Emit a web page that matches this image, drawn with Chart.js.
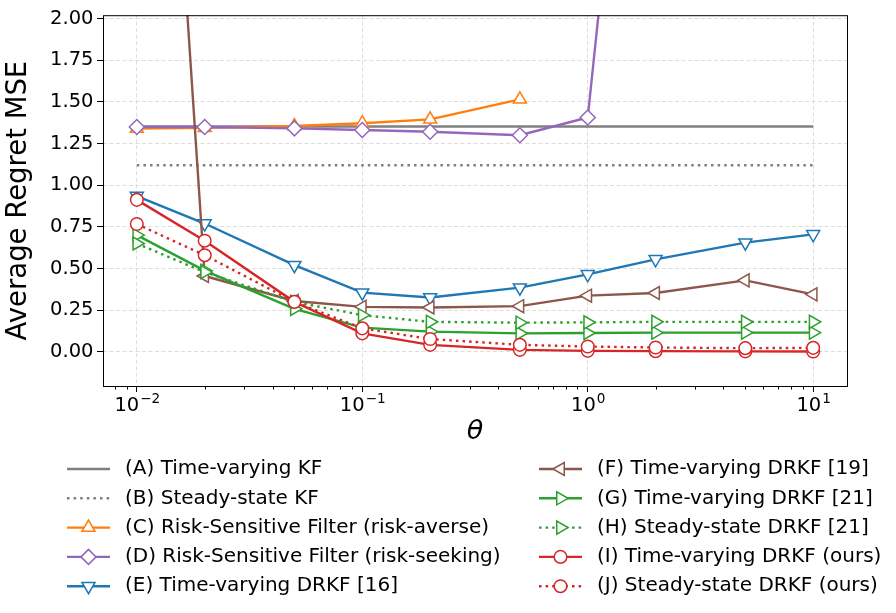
<!DOCTYPE html>
<html>
<head>
<meta charset="utf-8">
<script src="https://cdn.jsdelivr.net/npm/chart.js@4/dist/chart.umd.min.js"></script>
<style>
  html, body { margin: 0; padding: 0; background: #fff; }
  canvas { display: block; }
</style>
</head>
<body>
<canvas id="regret-chart" width="896" height="613"></canvas>
<script>
// theta values (x axis, log scale)
const thetas = [0.01, 0.02, 0.05, 0.1, 0.2, 0.5, 1, 2, 5, 10];

// average regret MSE per method
const kfTimeVarying = [1.352, 1.352, 1.352, 1.352, 1.352, 1.352, 1.352, 1.352, 1.352, 1.352];
const kfSteadyState = [1.12, 1.12, 1.12, 1.12, 1.12, 1.12, 1.12, 1.12, 1.12, 1.12];
const riskAverse = [1.34, 1.345, 1.355, 1.372, 1.395, 1.515, null, null, null, null];
const riskSeeking = [1.349, 1.349, 1.341, 1.331, 1.321, 1.30, 1.406, 5.3, 8.0, 9.5];
const drkf16 = [0.935, 0.77, 0.52, 0.355, 0.326, 0.385, 0.465, 0.555, 0.655, 0.705];
const drkf19 = [6.6, 0.455, 0.305, 0.27, 0.266, 0.274, 0.337, 0.353, 0.429, 0.345];
const drkf21 = [0.70, 0.487, 0.258, 0.145, 0.121, 0.111, 0.113, 0.115, 0.115, 0.115];
const drkf21Steady = [0.65, 0.478, 0.30, 0.22, 0.18, 0.175, 0.177, 0.18, 0.18, 0.18];
const drkfOurs = [0.912, 0.667, 0.30, 0.111, 0.042, 0.012, 0.006, 0.004, 0.003, 0.002];
const drkfOursSteady = [0.767, 0.58, 0.30, 0.141, 0.077, 0.042, 0.032, 0.026, 0.022, 0.024];

// ticks
const xTicks = [0.01, 0.1, 1, 10];
const xTickExponents = ["\u22122", "\u22121", "0", "1"];
const yTicks = [0, 0.25, 0.5, 0.75, 1.0, 1.25, 1.5, 1.75, 2.0];

const FONT = "'DejaVu Sans', sans-serif";
const DOTTED = [2.5, 4.1];

const toPoints = (values) => thetas.map((t, i) => ({ x: t, y: values[i] }));

const makeSeries = (label, values, color, opts = {}) => ({
  label: label,
  data: toPoints(values),
  borderColor: color,
  borderWidth: 2.4,
  borderDash: opts.dash || [],
  borderCapStyle: "butt",
  pointStyle: opts.marker || false,
  pointRadius: opts.marker ? (opts.radius || 7) : 0,
  pointRotation: opts.rotation || 0,
  pointBackgroundColor: "#ffffff",
  pointBorderColor: color,
  pointBorderWidth: 1.5,
  tension: 0,
  spanGaps: false,
  clip: 0,
});

const datasets = [
  makeSeries("(A) Time-varying KF", kfTimeVarying, "#7f7f7f"),
  makeSeries("(B) Steady-state KF", kfSteadyState, "#7f7f7f", { dash: DOTTED }),
  makeSeries("(C) Risk-Sensitive Filter (risk-averse)", riskAverse, "#ff7f0e", { marker: "triangle", radius: 7.5 }),
  makeSeries("(D) Risk-Sensitive Filter (risk-seeking)", riskSeeking, "#9467bd", { marker: "rectRot", radius: 7.5 }),
  makeSeries("(E) Time-varying DRKF [16]", drkf16, "#1f77b4", { marker: "triangle", radius: 7.5, rotation: 180 }),
  makeSeries("(F) Time-varying DRKF [19]", drkf19, "#8c564b", { marker: "triangle", radius: 7.5, rotation: 270 }),
  makeSeries("(G) Time-varying DRKF [21]", drkf21, "#2ca02c", { marker: "triangle", radius: 7.5, rotation: 90 }),
  makeSeries("(H) Steady-state DRKF [21]", drkf21Steady, "#2ca02c", { marker: "triangle", radius: 7.5, rotation: 90, dash: DOTTED }),
  makeSeries("(I) Time-varying DRKF (ours)", drkfOurs, "#d62728", { marker: "circle", radius: 6.3 }),
  makeSeries("(J) Steady-state DRKF (ours)", drkfOursSteady, "#d62728", { marker: "circle", radius: 6.3, dash: DOTTED }),
];
// later series on top, like matplotlib
datasets.forEach((ds, i) => { ds.order = datasets.length - i; });

// frame, minor ticks, 10^n labels and the two-column legend
const framePlugin = {
  id: "frame",
  afterDatasetsDraw(chart) {
    const { ctx, chartArea: a, scales } = chart;
    ctx.save();
    ctx.strokeStyle = "#000";
    ctx.lineWidth = 1;
    ctx.strokeRect(a.left + 0.5, a.top + 0.5, a.right - a.left, a.bottom - a.top);
    // minor ticks of the log axis
    const x = scales.x;
    ctx.beginPath();
    for (let n = -3; n <= 1; n++) {
      for (let k = 2; k <= 9; k++) {
        const v = k * Math.pow(10, n);
        if (v < x.min || v > x.max) continue;
        const px = Math.round(x.getPixelForValue(v)) + 0.5;
        ctx.moveTo(px, a.bottom);
        ctx.lineTo(px, a.bottom + 3.5);
      }
    }
    ctx.stroke();

    // x tick labels as 10 with a raised exponent
    ctx.fillStyle = "#000";
    ctx.textBaseline = "alphabetic";
    ctx.textAlign = "left";
    const baseY = a.bottom + 25;
    xTicks.forEach((v, i) => {
      const px = x.getPixelForValue(v);
      ctx.font = "19.5px " + FONT;
      const wb = ctx.measureText("10").width;
      ctx.font = "13.6px " + FONT;
      const we = ctx.measureText(xTickExponents[i]).width;
      const start = px - (wb + we) / 2;
      ctx.font = "19.5px " + FONT;
      ctx.fillText("10", start, baseY);
      ctx.font = "13.6px " + FONT;
      ctx.fillText(xTickExponents[i], start + wb + 1, baseY - 8);
    });
    ctx.restore();
  },
  afterDraw(chart) {
    const { ctx } = chart;
    const cols = [
      { x0: 67, text: 125 },
      { x0: 539, text: 597 },
    ];
    const rowY = 469;
    const rowGap = 29.3;
    const handleLen = 43;
    ctx.save();
    chart.data.datasets.forEach((ds, i) => {
      const col = cols[i < 5 ? 0 : 1];
      const y = rowY + (i % 5) * rowGap;
      ctx.strokeStyle = ds.borderColor;
      ctx.lineWidth = ds.borderWidth;
      ctx.lineCap = "butt";
      ctx.setLineDash(ds.borderDash);
      ctx.beginPath();
      ctx.moveTo(col.x0, y);
      ctx.lineTo(col.x0 + handleLen, y);
      ctx.stroke();
      ctx.setLineDash([]);
      if (ds.pointStyle) {
        ctx.fillStyle = "#ffffff";
        ctx.strokeStyle = ds.borderColor;
        ctx.lineWidth = ds.pointBorderWidth;
        Chart.helpers.drawPoint(ctx, {
          pointStyle: ds.pointStyle,
          rotation: ds.pointRotation,
          radius: ds.pointRadius,
          borderWidth: ds.pointBorderWidth,
        }, col.x0 + handleLen / 2, y);
      }
      ctx.fillStyle = "#000";
      ctx.font = "20px " + FONT;
      ctx.textBaseline = "middle";
      ctx.textAlign = "left";
      ctx.fillText(ds.label, col.text, y);
    });
    ctx.restore();
  },
};

new Chart(document.getElementById("regret-chart"), {
  type: "line",
  data: { datasets: datasets },
  options: {
    responsive: false,
    animation: false,
    events: [],
    layout: { padding: { left: 0, right: 49, top: 11, bottom: 165 } },
    plugins: { legend: { display: false }, tooltip: { enabled: false } },
    scales: {
      x: {
        type: "logarithmic",
        min: Math.pow(10, -2.15),
        max: Math.pow(10, 1.15),
        afterBuildTicks: (scale) => { scale.ticks = xTicks.map((v) => ({ value: v })); },
        afterFit: (scale) => { scale.height = 62; },
        ticks: { display: false },
        grid: {
          color: "#dddddd",
          lineWidth: 1,
          tickLength: 6,
          tickColor: "#000",
          tickWidth: 1,
        },
        border: { display: false, dash: [4, 2.5] },
        title: {
          display: true,
          text: "\u03B8",
          color: "#000",
          font: { family: FONT, size: 27, style: "italic" },
          padding: { top: 0, bottom: 0 },
        },
      },
      y: {
        type: "linear",
        min: -0.205,
        max: 2.02,
        afterBuildTicks: (scale) => { scale.ticks = yTicks.map((v) => ({ value: v })); },
        afterFit: (scale) => { scale.width = 103; },
        ticks: {
          padding: 3.5,
          color: "#000",
          font: { family: FONT, size: 19.5 },
          callback: (value) => value.toFixed(2),
        },
        grid: {
          color: "#dddddd",
          lineWidth: 1,
          tickLength: 6,
          tickColor: "#000",
          tickWidth: 1,
        },
        border: { display: false, dash: [4, 2.5] },
        title: {
          display: true,
          text: "Average Regret MSE",
          color: "#000",
          font: { family: FONT, size: 27.5 },
          padding: { top: 2, bottom: 0 },
        },
      },
    },
  },
  plugins: [framePlugin],
});
</script>
</body>
</html>
